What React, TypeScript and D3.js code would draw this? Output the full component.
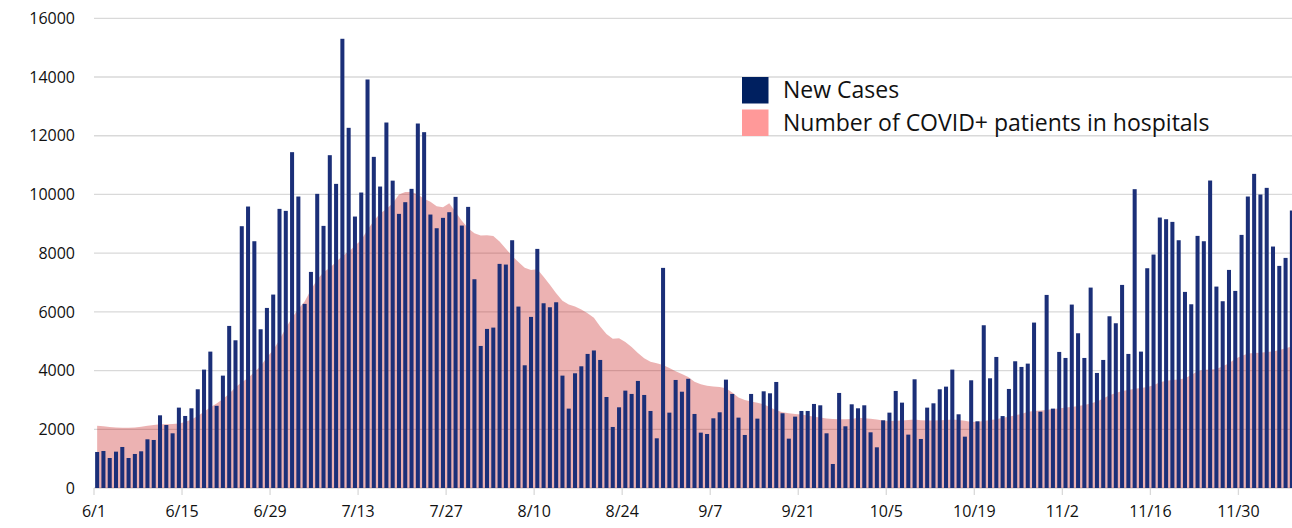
import { useRef, useEffect } from "react";
import * as d3 from "d3";

// daily values, 6/1 .. 12/8
const startDate = new Date(2020, 5, 1);
const dayCount = 191;

const newCases = [
  1227, 1261, 1022, 1238, 1397, 1022, 1159, 1250, 1659, 1636, 2476, 2147, 1863, 2738, 2454, 2715,
  3363, 4033, 4646, 2800, 3828, 5521, 5032, 8918, 9588, 8406, 5407, 6134, 6589, 9508, 9440, 11440,
  9929, 6271, 7361, 10020, 8929, 11337, 10360, 15302, 12269, 9247, 10065, 13916, 11280, 10269, 12450, 10470,
  9338, 9736, 10190, 12416, 12121, 9315, 8849, 9202, 9395, 9917, 8940, 9576, 7111, 4839, 5419, 5464,
  7634, 7611, 8440, 6180, 4180, 5828, 8145, 6293, 6157, 6327, 3828, 2704, 3908, 4146, 4567, 4685,
  4362, 3100, 2079, 2749, 3317, 3204, 3647, 3169, 2624, 1693, 7498, 2567, 3680, 3280, 3720, 2522,
  1886, 1840, 2374, 2579, 3692, 3204, 2397, 1806, 3204, 2363, 3294, 3226, 3612, 2545, 1681,
  2431, 2624, 2624, 2863, 2817, 1863, 818, 3238, 2102, 2851, 2715, 2817, 1897, 1386, 2306, 2567,
  3306, 2908, 1818, 3703, 1670, 2738, 2885, 3363, 3453, 4033, 2511, 1749, 3669, 2272, 5544, 3737,
  4464, 2450, 3374, 4317, 4124, 4237, 5635, 2600, 6577, 2704, 4635, 4430, 6248, 5271, 4430, 6827,
  3919, 4362, 5850, 5612, 6918, 4567, 10179, 4646, 7486, 7952, 9213, 9156, 9065, 8440, 6680, 6259,
  8588, 8406, 10474, 6861, 6362, 7429, 6714, 8622, 9929, 10701, 9997, 10224, 8225, 7566, 7838, 9452,
];

const hospitalized = [
  2120, 2100, 2080, 2060, 2050, 2050, 2060, 2090, 2120, 2150, 2170, 2170, 2180, 2200, 2250, 2330,
  2450, 2600, 2750, 2880, 3030, 3210, 3430, 3600, 3750, 3950, 4150, 4450, 4700, 5050, 5450, 5800,
  6100, 6350, 6750, 7100, 7350, 7500, 7700, 7900, 8050, 8250, 8450, 8800, 9100, 9350, 9500, 9700,
  10000, 10080, 10080, 10000, 9850, 9750, 9600, 9560, 9700, 9400, 9100, 8850, 8680, 8600, 8610, 8580,
  8400, 8150, 7900, 7700, 7500, 7430, 7450, 7200, 6920, 6630, 6380, 6250, 6180, 6080, 5950, 5800,
  5500, 5250, 5080, 5100, 4970, 4800, 4600, 4420, 4300, 4250, 4190, 4090, 3980, 3880, 3780, 3620,
  3530, 3480, 3460, 3440, 3400, 3250, 3080, 3000, 2950, 2900, 2850, 2750, 2650, 2580, 2550,
  2520, 2500, 2470, 2430, 2400, 2370, 2350, 2340, 2340, 2350, 2390, 2380, 2360, 2330, 2300, 2280,
  2290, 2300, 2320, 2330, 2310, 2300, 2300, 2310, 2320, 2330, 2320, 2290, 2250, 2260, 2280, 2320,
  2340, 2390, 2430, 2480, 2520, 2600, 2620, 2640, 2660, 2690, 2710, 2740, 2760, 2790, 2830, 2880,
  2950, 3050, 3160, 3240, 3300, 3340, 3380, 3410, 3440, 3500, 3600, 3650, 3680, 3700, 3740, 3850,
  3980, 4030, 4040, 4050, 4150, 4250, 4400, 4500, 4580, 4600, 4610, 4630, 4650, 4700, 4760, 4820,
];

const yTicks = [0, 2000, 4000, 6000, 8000, 10000, 12000, 14000, 16000];
const xTickLabels = ["6/1", "6/15", "6/29", "7/13", "7/27", "8/10", "8/24", "9/7", "9/21", "10/5", "10/19", "11/2", "11/16", "11/30"];

const seriesNames = ["New Cases", "Number of COVID+ patients in hospitals"];

export default function App() {
  const ref = useRef<SVGSVGElement>(null);

  useEffect(() => {
    if (!ref.current) return;
    const width = 1292;
    const marginLeft = 94;
    const step = 6.288;
    const font = "'Open Sans', sans-serif";

    const svg = d3.select(ref.current);
    svg.selectAll("*").remove();

    const days = d3.range(dayCount).map((i) => d3.timeDay.offset(startDate, i));
    const fmt = d3.timeFormat("%-m/%-d");

    const x = d3
      .scaleBand<number>()
      .domain(d3.range(dayCount))
      .range([marginLeft, marginLeft + dayCount * step])
      .paddingInner(0.36)
      .paddingOuter(0.18);
    const y = d3.scaleLinear().domain([0, 16000]).range([488, 18.3]);

    // gridlines
    svg
      .append("g")
      .selectAll("line")
      .data(yTicks)
      .join("line")
      .attr("x1", marginLeft)
      .attr("x2", width)
      .attr("y1", (d) => y(d))
      .attr("y2", (d) => y(d))
      .attr("stroke", "#d9d9d9")
      .attr("stroke-width", 1.3);

    // y labels
    svg
      .append("g")
      .attr("font-family", font)
      .attr("font-size", 16)
      .attr("fill", "#111")
      .attr("text-anchor", "end")
      .selectAll("text")
      .data(yTicks)
      .join("text")
      .attr("x", 75)
      .attr("y", (d) => y(d))
      .attr("dy", "0.36em")
      .text((d) => String(d));

    // hospital area
    const cx = (i: number) => (x(i) as number) + x.bandwidth() / 2;
    const area = d3
      .area<number>()
      .x((d, i) => cx(i))
      .y0(y(0))
      .y1((d) => y(d));
    svg
      .append("path")
      .datum(hospitalized)
      .attr("d", area)
      .attr("fill", "#c00000")
      .attr("fill-opacity", 0.3);

    // new cases bars
    svg
      .append("g")
      .attr("fill", "#1b2f78")
      .selectAll("rect")
      .data(newCases)
      .join("rect")
      .attr("x", (d, i) => x(i) as number)
      .attr("y", (d) => y(d))
      .attr("width", x.bandwidth())
      .attr("height", (d) => y(0) - y(d));

    // x ticks + labels
    const tickIdx = days.map((d, i) => i).filter((i) => xTickLabels.includes(fmt(days[i])));
    const xg = svg.append("g");
    xg.selectAll("line")
      .data(tickIdx)
      .join("line")
      .attr("x1", (i) => marginLeft + i * step)
      .attr("x2", (i) => marginLeft + i * step)
      .attr("y1", y(0))
      .attr("y2", y(0) + 7)
      .attr("stroke", "#d9d9d9")
      .attr("stroke-width", 1.3);
    xg.selectAll("text")
      .data(tickIdx)
      .join("text")
      .attr("x", (i) => marginLeft + i * step)
      .attr("y", 517)
      .attr("text-anchor", "middle")
      .attr("font-family", font)
      .attr("font-size", 16)
      .attr("fill", "#111")
      .text((i) => fmt(days[i]));

    // legend
    const legend = svg.append("g").attr("font-family", font).attr("font-size", 23).attr("fill", "#111");
    const legendColors = ["#002060", "#ff9999"];
    seriesNames.forEach((name, k) => {
      legend
        .append("rect")
        .attr("x", 742)
        .attr("y", 77 + k * 32.5)
        .attr("width", 26.5)
        .attr("height", 26.5)
        .attr("fill", legendColors[k]);
      legend
        .append("text")
        .attr("x", 783)
        .attr("y", 90 + k * 32.5)
        .attr("dy", "0.35em")
        .text(name);
    });
  }, []);

  return (
    <svg
      ref={ref}
      width={1292}
      height={528}
      style={{ position: "absolute", left: 0, top: 0, background: "#fff" }}
    />
  );
}
